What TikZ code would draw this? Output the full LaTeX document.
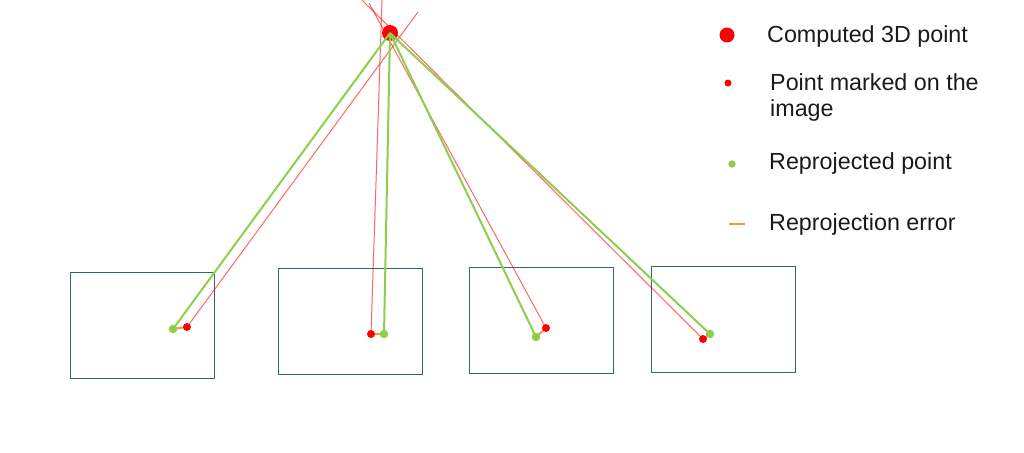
\documentclass[tikz,border=0pt]{standalone}
\usepackage{fontspec}
\setmainfont{Liberation Sans}
\definecolor{framec}{HTML}{2C6B6E}
\definecolor{projg}{HTML}{8DCF4A}
\definecolor{errorange}{HTML}{F79646}
\definecolor{txt}{HTML}{1A1A1A}
\begin{document}
\begin{tikzpicture}[x=1pt,y=-1pt,
  frame/.style={draw=framec, line width=1.3pt, anchor=north west, inner sep=0, minimum width=144pt, minimum height=106pt},
  ray/.style={draw=red, draw opacity=0.6, line width=1pt},
  proj/.style={draw=projg, line width=2pt},
  err/.style={draw=errorange, line width=2pt},
  reddot/.style={circle, fill=red, inner sep=0, minimum size=8pt},
  greendot/.style={circle, fill=projg, inner sep=0, minimum size=8.5pt},
  bigdot/.style={circle, fill=red, inner sep=0, minimum size=16pt},
  legend/.style={anchor=base west, inner sep=0, text=txt, font=\fontsize{23.3}{26}\selectfont, align=left}]
\useasboundingbox (0,0) rectangle (1024,452);
% image frames
\node[frame] (img1) at (70,272) {};
\node[frame] (img2) at (278,268) {};
\node[frame] (img3) at (469,267) {};
\node[frame] (img4) at (651,266) {};
% computed 3D point
\node[bigdot] (P) at (390,33) {};
% marked points and reprojected points (positions)
\coordinate (r1) at (187,327);
\coordinate (r2) at (371,334);
\coordinate (r3) at (546,328);
\coordinate (r4) at (703,339);
\coordinate (g1) at (173,329);
\coordinate (g2) at (384,334);
\coordinate (g3) at (536,337);
\coordinate (g4) at (710,334);
% ray ends
\coordinate (e1) at (418,12);
\coordinate (e2) at (382,0);
\coordinate (e3) at (369,3);
\coordinate (e4) at (362,0);
% rays
\draw[ray] (r1) -- (e1);
\draw[ray] (r2) -- (e2);
\draw[ray] (r3) -- (e3);
\draw[ray] (r4) -- (e4);
% reprojection lines
\draw[proj] (g1) -- (P.center);
\draw[proj] (g2) -- (P.center);
\draw[proj] (g3) -- (P.center);
\draw[proj] (g4) -- (P.center);
% reprojection errors
\draw[err] (g1) -- (r1);
\draw[err] (g2) -- (r2);
\draw[err] (g3) -- (r3);
\draw[err] (g4) -- (r4);
% dots
\node[reddot] (rd1) at (r1) {};
\node[reddot] (rd2) at (r2) {};
\node[reddot] (rd3) at (r3) {};
\node[reddot] (rd4) at (r4) {};
\node[greendot] (gd1) at (g1) {};
\node[greendot] (gd2) at (g2) {};
\node[greendot] (gd3) at (g3) {};
\node[greendot] (gd4) at (g4) {};
% legend
\node[bigdot, minimum size=15pt] (lg1) at (727,35) {};
\node[reddot, minimum size=7pt] (lg2) at (728,83) {};
\node[greendot, minimum size=7.5pt] (lg3) at (732,164) {};
\coordinate (lg4a) at (729,224);
\coordinate (lg4b) at (745,224);
\draw[err, line width=1.6pt] (lg4a) -- (lg4b);
\node[legend] (l-computed) at (767,43) {Computed 3D point};
\node[legend] (l-marked) at (770,116) {Point marked on the\\image};
\node[legend] (l-reproj) at (769,169) {Reprojected point};
\node[legend] (l-err) at (769,230) {Reprojection error};
\end{tikzpicture}
\end{document}
